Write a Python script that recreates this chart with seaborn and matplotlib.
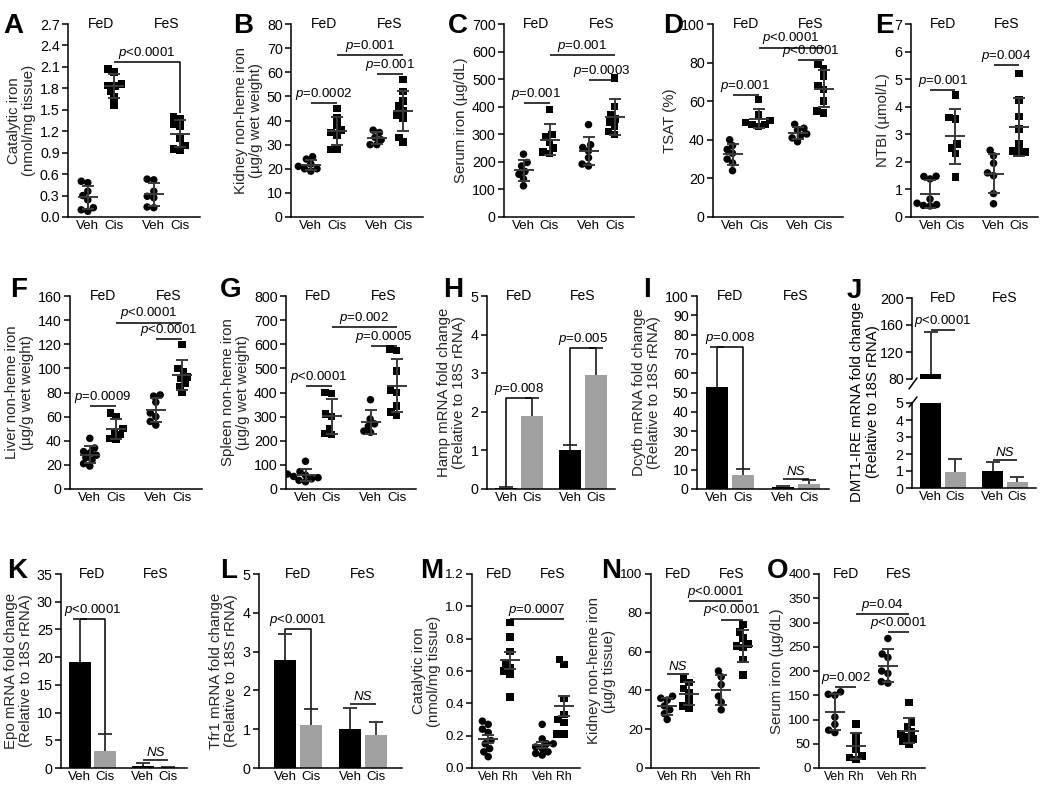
import warnings

import numpy as np
import pandas as pd
import matplotlib.pyplot as plt
import seaborn as sns
from matplotlib.lines import Line2D

warnings.filterwarnings("ignore")

FIG_W, FIG_H = 1050, 791
DIETS = ["FeD", "FeS"]
CIS = ["Veh", "Cis"]
RH = ["Veh", "Rh"]

# scatter panels: groups in order FeD Veh, FeD treated, FeS Veh, FeS treated
cat_iron_a = [[0.50, 0.48, 0.36, 0.30, 0.24, 0.13, 0.10, 0.08],
              [2.07, 2.03, 1.86, 1.84, 1.83, 1.76, 1.68, 1.57],
              [0.53, 0.52, 0.36, 0.29, 0.27, 0.14, 0.13],
              [1.40, 1.38, 1.30, 1.27, 1.10, 1.00, 0.95, 0.94]]
kidney_b = [[25, 24, 22, 21, 20, 20, 19],
            [45, 41, 38, 36, 35, 34, 28, 28],
            [36, 35, 33, 32, 30, 30],
            [57, 52, 48, 46, 44, 42, 41, 33, 31]]
serum_c = [[228, 198, 185, 165, 155, 138, 113],
           [390, 300, 290, 270, 250, 235, 230],
           [335, 262, 252, 240, 215, 192, 185],
           [505, 400, 370, 355, 345, 330, 310, 300]]
tsat_d = [[40, 37, 35, 33, 30, 28, 24],
          [61, 53, 50, 49, 48, 48, 47],
          [48, 46, 45, 43, 42, 41, 39],
          [79, 77, 73, 68, 66, 60, 55, 54]]
ntbi_e = [[1.48, 1.47, 1.38, 0.65, 0.50, 0.45, 0.42, 0.40],
          [4.42, 3.60, 3.55, 2.65, 2.50, 2.30, 1.45],
          [2.42, 2.22, 1.95, 1.60, 1.50, 0.85, 0.48],
          [5.20, 4.25, 3.65, 3.20, 2.65, 2.40, 2.35, 2.35]]
liver_f = [[42, 34, 31, 30, 28, 26, 24, 21, 19],
           [63, 60, 50, 47, 45, 42, 41],
           [78, 77, 72, 63, 60, 56, 53],
           [120, 100, 97, 93, 92, 88, 85, 80]]
spleen_g = [[115, 72, 62, 57, 52, 47, 42, 36, 30],
            [400, 395, 310, 300, 250, 230, 225],
            [370, 290, 270, 260, 240, 235],
            [580, 575, 490, 410, 400, 345, 320, 305]]
cat_iron_m = [[0.29, 0.27, 0.24, 0.22, 0.17, 0.15, 0.12, 0.10, 0.07],
              [0.90, 0.81, 0.72, 0.65, 0.62, 0.60, 0.58, 0.44],
              [0.27, 0.18, 0.15, 0.15, 0.13, 0.12, 0.10, 0.09, 0.08],
              [0.67, 0.64, 0.43, 0.33, 0.30, 0.28, 0.21, 0.21]]
kidney_n = [[37, 36, 35, 32, 30, 28, 25],
            [46, 44, 41, 39, 35, 32, 31],
            [50, 47, 43, 37, 34, 30],
            [74, 70, 67, 64, 63, 62, 56, 48]]
serum_o = [[157, 152, 150, 105, 90, 78, 73],
           [91, 66, 52, 38, 25, 22, 18],
           [267, 235, 228, 200, 195, 178, 175],
           [135, 95, 85, 75, 70, 65, 60, 55, 50]]

# bar panels: mean and SD per group
hamp_mean = [0.03, 1.88, 1.0, 2.96]
hamp_sd = [0.02, 0.47, 0.13, 0.68]
dcytb_mean = [53, 7.5, 1.0, 2.6]
dcytb_sd = [20.5, 3.0, 0.3, 2.0]
dmt1_mean = [88, 0.95, 1.0, 0.35]
dmt1_sd = [62, 0.75, 0.52, 0.32]
epo_mean = [19.2, 3.0, 0.35, 0.15]
epo_sd = [7.6, 3.1, 0.5, 0.1]
tfr1_mean = [2.78, 1.1, 1.0, 0.85]
tfr1_sd = [0.68, 0.42, 0.55, 0.33]

# significance brackets: (group i, group j, height, label, left end, right end)
notes = {
    "A": [(1, 3, 2.17, "p<0.0001", None, 1.45)],
    "B": [(0, 1, 47.3, "p=0.0002"), (1, 3, 67, "p=0.001"), (2, 3, 59.4, "p=0.001")],
    "C": [(0, 1, 412, "p=0.001"), (1, 3, 587, "p=0.001"), (2, 3, 497, "p=0.0003")],
    "D": [(0, 1, 63.4, "p=0.001"), (1, 3, 87.8, "p<0.0001"), (2, 3, 81.2, "p<0.0001")],
    "E": [(0, 1, 4.62, "p=0.001"), (2, 3, 5.5, "p=0.004")],
    "F": [(0, 1, 68.7, "p=0.0009"), (1, 3, 138, "p<0.0001"), (2, 3, 124, "p<0.0001")],
    "G": [(0, 1, 425, "p<0.0001"), (1, 3, 671, "p=0.002"), (2, 3, 594, "p=0.0005")],
    "H": [(0, 1, 2.35, "p=0.008", 0.05, 2.35), (2, 3, 3.65, "p=0.005", 1.13, 3.65)],
    "I": [(0, 1, 73.5, "p=0.008", None, 10.5), (2, 3, 5, "NS")],
    "J": [(2, 3, 1.63, "NS")],
    "Jtop": [(0, 1, 153, "p<0.0001")],
    "K": [(0, 1, 26.8, "p<0.0001", None, 6.1), (2, 3, 1.5, "NS")],
    "L": [(0, 1, 3.57, "p<0.0001", 3.47, 1.52), (2, 3, 1.65, "NS")],
    "M": [(1, 3, 0.92, "p=0.0007")],
    "N": [(0, 1, 48.5, "NS"), (1, 3, 86, "p<0.0001"), (2, 3, 76.5, "p<0.0001")],
    "O": [(0, 1, 167, "p=0.002"), (1, 3, 318, "p=0.04"), (2, 3, 280, "p<0.0001")],
}

DODGE = 0.4
ERR_C = "#3a3a3a"
BAR_GREY = "#a0a0a0"
LAYOUT_SIZE = 4.6   # marker size used to pack the swarms (points overlap like the original)
MARK_SIZE = 5.4     # marker size actually drawn
SWARMS = []


def add_axes(fig, left, top, width, height):
    return fig.add_axes([left / FIG_W, 1 - (top + height) / FIG_H,
                         width / FIG_W, height / FIG_H])


def group_x(k):
    return k // 2 + (k % 2 - 0.5) * DODGE


def to_long(groups, treats):
    rows = []
    for k, vals in enumerate(groups):
        for v in vals:
            rows.append({"diet": DIETS[k // 2], "treat": treats[k % 2], "value": v})
    return pd.DataFrame(rows)


def scatter_panel(ax, groups, treats, err="std"):
    df = to_long(groups, treats)
    pal = {treats[0]: "black", treats[1]: "black"}
    for t, mk in zip(treats, ["o", "s"]):
        n0 = len(ax.collections)
        sns.swarmplot(data=df[df["treat"] == t], x="diet", y="value", hue="treat",
                      order=DIETS, hue_order=treats, dodge=True,
                      palette=pal, marker=mk, size=LAYOUT_SIZE, linewidth=0,
                      legend=False, ax=ax)
        SWARMS.extend(ax.collections[n0:])
    stats = df.groupby(["diet", "treat"])["value"].agg(["mean", err])
    for k in range(4):
        m, e = stats.loc[(DIETS[k // 2], treats[k % 2])]
        ax.errorbar(group_x(k), m, yerr=e, fmt="_", ms=15, mew=1.4, color=ERR_C,
                    elinewidth=1.4, capsize=4.5, capthick=1.4, zorder=5)


def bar_panel(ax, means, sds, treats):
    df = pd.DataFrame({"diet": [DIETS[k // 2] for k in range(4)],
                       "treat": [treats[k % 2] for k in range(4)],
                       "value": means})
    sns.barplot(data=df, x="diet", y="value", hue="treat", order=DIETS,
                hue_order=treats, palette={treats[0]: "black", treats[1]: BAR_GREY},
                width=2 * DODGE, gap=0.15, errorbar=None, legend=False,
                linewidth=0, ax=ax)
    xs = [group_x(k) for k in range(4)]
    _, caps, _ = ax.errorbar(xs, means, yerr=[np.zeros(4), sds], fmt="none",
                             ecolor=ERR_C, elinewidth=1.4, capsize=5, capthick=1.4)
    for cap in caps:
        if np.allclose(cap.get_ydata(), means):
            cap.set_visible(False)


def style(ax, ticks, fmt, ylabel, treats, xlim=(-0.5, 1.5), header=True, small=False):
    ax.set_ylim(ticks[0], ticks[-1])
    ax.set_yticks(ticks)
    ax.set_yticklabels([fmt.format(t) for t in ticks])
    ax.set_xlim(*xlim)
    ax.set_xticks([group_x(k) for k in range(4)])
    ax.set_xticklabels(treats * 2)
    ax.tick_params(axis="x", length=0, pad=2, labelsize=8.8 if small else 9.6)
    ax.tick_params(axis="y", length=4, width=1.1, labelsize=9.6 if small else 10.3, pad=2)
    ax.set_xlabel("")
    ax.set_ylabel(ylabel, fontsize=10.8, labelpad=3, linespacing=1.1)
    sns.despine(ax=ax)
    for s in ["left", "bottom"]:
        ax.spines[s].set_linewidth(1.1)
    if header:
        for k, d in enumerate(DIETS):
            ax.text(k, ticks[-1], d, ha="center", va="center", fontsize=10)


def bracket(ax, i, j, y, label, y_i=None, y_j=None):
    xi, xj = group_x(i), group_x(j)
    ax.plot([xi, xi, xj, xj], [y if y_i is None else y_i, y, y, y if y_j is None else y_j],
            color="black", lw=1.1, clip_on=False, solid_capstyle="butt", zorder=6)
    if label == "NS":
        text, fs = "NS", "italic"
    else:
        text, fs = "$p$" + label[1:], "normal"
    ax.annotate(text, ((xi + xj) / 2, y), xytext=(0, 0.8), textcoords="offset points",
                ha="center", va="bottom", fontsize=9.5, fontstyle=fs)


def annotate(ax, key):
    for n in notes[key]:
        bracket(ax, *n)


def letter(fig, x, y, s):
    fig.text(x / FIG_W, 1 - y / FIG_H, s, fontsize=20, fontweight="bold",
             ha="left", va="baseline")


def main():
    sns.set_theme(style="ticks")
    plt.rcParams["font.family"] = ["Liberation Sans", "DejaVu Sans"]
    plt.rcParams["mathtext.fontset"] = "custom"
    plt.rcParams["mathtext.it"] = "Liberation Sans:italic"
    plt.rcParams["mathtext.rm"] = "Liberation Sans"
    plt.rcParams["text.color"] = "black"
    plt.rcParams["xtick.color"] = "black"
    plt.rcParams["ytick.color"] = "black"
    plt.rcParams["axes.edgecolor"] = "black"

    fig = plt.figure(figsize=(FIG_W / 100, FIG_H / 100), dpi=100)

    # row 1
    ax = add_axes(fig, 68, 24, 132, 193)
    scatter_panel(ax, cat_iron_a, CIS)
    style(ax, np.round(np.arange(0, 2.71, 0.3), 1), "{:.1f}",
          "Catalytic iron\n(nmol/mg tissue)", CIS)
    annotate(ax, "A")

    ax = add_axes(fig, 291, 24, 132, 193)
    scatter_panel(ax, kidney_b, CIS)
    style(ax, np.arange(0, 81, 10), "{:d}", "Kidney non-heme iron\n(µg/g wet weight)", CIS)
    annotate(ax, "B")

    ax = add_axes(fig, 504, 24, 130, 193)
    scatter_panel(ax, serum_c, CIS)
    style(ax, np.arange(0, 701, 100), "{:d}", "Serum iron (µg/dL)", CIS)
    annotate(ax, "C")

    ax = add_axes(fig, 713, 24, 130, 193)
    scatter_panel(ax, tsat_d, CIS)
    style(ax, np.arange(0, 101, 20), "{:d}", "TSAT (%)", CIS)
    annotate(ax, "D")

    ax = add_axes(fig, 911, 24, 127, 193)
    scatter_panel(ax, ntbi_e, CIS)
    style(ax, np.arange(0, 8, 1), "{:d}", "NTBI (µmol/L)", CIS)
    annotate(ax, "E")

    # row 2
    ax = add_axes(fig, 70, 296, 132, 193)
    scatter_panel(ax, liver_f, CIS)
    style(ax, np.arange(0, 161, 20), "{:d}", "Liver non-heme iron\n(µg/g wet weight)", CIS)
    annotate(ax, "F")

    ax = add_axes(fig, 286, 296, 130, 193)
    scatter_panel(ax, spleen_g, CIS)
    style(ax, np.arange(0, 801, 100), "{:d}", "Spleen non-heme iron\n(µg/g wet weight)", CIS)
    annotate(ax, "G")

    ax = add_axes(fig, 487, 296, 128, 193)
    bar_panel(ax, hamp_mean, hamp_sd, CIS)
    style(ax, np.arange(0, 6, 1), "{:d}", "Hamp mRNA fold change\n(Relative to 18S rRNA)", CIS)
    annotate(ax, "H")

    ax = add_axes(fig, 697, 296, 132, 193)
    bar_panel(ax, dcytb_mean, dcytb_sd, CIS)
    style(ax, np.arange(0, 101, 10), "{:d}", "Dcytb mRNA fold change\n(Relative to 18S rRNA)", CIS)
    annotate(ax, "I")

    # J: broken y axis
    ax_top = add_axes(fig, 912, 298, 124, 81)
    bar_panel(ax_top, dmt1_mean, dmt1_sd, CIS)
    style(ax_top, np.array([80, 120, 160, 200]), "{:d}", "", CIS)
    ax_top.spines["bottom"].set_visible(False)
    ax_top.set_xticks([])
    annotate(ax_top, "Jtop")
    ax_bot = add_axes(fig, 912, 403, 124, 85)
    bar_panel(ax_bot, dmt1_mean, dmt1_sd, CIS)
    style(ax_bot, np.arange(0, 6, 1), "{:d}", "", CIS, header=False)
    annotate(ax_bot, "J")
    fig.text(865 / FIG_W, 1 - 402 / FIG_H,
             "DMT1-IRE mRNA fold change\n(Relative to 18S rRNA)",
             rotation=90, ha="center", va="center", fontsize=10.8, linespacing=1.1)
    for (x1, y1), (x2, y2) in [((909, 389), (917, 378)), ((909, 407), (917, 397))]:
        fig.add_artist(Line2D([x1 / FIG_W, x2 / FIG_W], [1 - y1 / FIG_H, 1 - y2 / FIG_H],
                              color="black", lw=1.1))

    # row 3
    ax = add_axes(fig, 61, 574, 126, 194)
    bar_panel(ax, epo_mean, epo_sd, CIS)
    style(ax, np.arange(0, 36, 5), "{:d}", "Epo mRNA fold change\n(Relative to 18S rRNA)", CIS)
    annotate(ax, "K")

    ax = add_axes(fig, 259, 574, 143, 194)
    bar_panel(ax, tfr1_mean, tfr1_sd, CIS)
    style(ax, np.arange(0, 6, 1), "{:d}", "Tfr1 mRNA fold change\n(Relative to 18S rRNA)", CIS,
          xlim=(-0.6, 1.6))
    annotate(ax, "L")

    ax = add_axes(fig, 472, 574, 108, 194)
    scatter_panel(ax, cat_iron_m, RH, err="sem")
    style(ax, np.round(np.arange(0, 1.21, 0.2), 1), "{:.1f}",
          "Catalytic iron\n(nmol/mg tissue)", RH, small=True)
    annotate(ax, "M")

    ax = add_axes(fig, 651, 574, 108, 194)
    scatter_panel(ax, kidney_n, RH)
    style(ax, np.arange(0, 101, 20), "{:d}", "Kidney non-heme iron\n(µg/g tissue)", RH,
          small=True)
    annotate(ax, "N")

    ax = add_axes(fig, 819, 574, 106, 194)
    scatter_panel(ax, serum_o, RH)
    style(ax, np.arange(0, 401, 50), "{:d}", "Serum iron (µg/dL)", RH, small=True)
    annotate(ax, "O")

    for s, x, y in [("A", 3, 33), ("B", 233, 33), ("C", 448, 33), ("D", 663, 33),
                    ("E", 875, 33), ("F", 10, 297), ("G", 220, 297), ("H", 443, 297),
                    ("I", 643, 297), ("J", 847, 298), ("K", 7, 578), ("L", 220, 578),
                    ("M", 420, 578), ("N", 601, 578), ("O", 767, 578)]:
        letter(fig, x, y, s)

    # pack the swarms once with small markers, then freeze them and draw bigger markers
    fig.canvas.draw()
    for c in SWARMS:
        if "draw" in c.__dict__:
            del c.draw
        c.set_sizes([MARK_SIZE ** 2])

    fig.savefig("out.png", dpi=100)
    plt.close(fig)


if __name__ == "__main__":
    main()
